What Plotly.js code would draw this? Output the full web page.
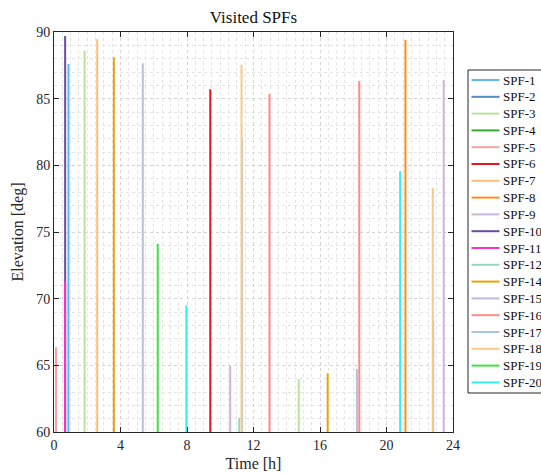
<!DOCTYPE html>
<html>
<head>
<meta charset="utf-8">
<script src="https://cdn.plot.ly/plotly-3.0.1.min.js"></script>
<style>html,body{margin:0;padding:0;background:#fff;}#chart{width:541px;height:473px;}</style>
</head>
<body>
<div id="chart"></div>
<script>
// Series (legend order) and their colours
const seriesNames = ['SPF-1','SPF-2','SPF-3','SPF-4','SPF-5','SPF-6','SPF-7','SPF-8','SPF-9','SPF-10',
                     'SPF-11','SPF-12','SPF-14','SPF-15','SPF-16','SPF-17','SPF-18','SPF-19','SPF-20'];
const seriesColors = ['#5fb8ec','#4f8cc6','#b9e29a','#3aa835','#f7a1a1','#e4161d','#fdbf78','#ff8c1a','#cdb6da','#6e4b9e',
                      '#ff33bb','#98d6c6','#eba300','#bcbcdc','#ff8a86','#a8c6df','#fcc88a','#3ee23e','#33f0f0'];

// Passes: which SPF, time of pass [h], peak elevation [deg]
const passSeries = ['SPF-5','SPF-10','SPF-11','SPF-1','SPF-3','SPF-7','SPF-14','SPF-15','SPF-19','SPF-20',
                    'SPF-6','SPF-9','SPF-12','SPF-17','SPF-18','SPF-16','SPF-3','SPF-14','SPF-15','SPF-16',
                    'SPF-20','SPF-8','SPF-17','SPF-18','SPF-9'];
const passTime   = [0.12, 0.67, 0.67, 0.87, 1.84, 2.60, 3.60, 5.34, 6.24, 7.96,
                    9.40, 10.60, 11.14, 11.31, 11.28, 12.96, 14.72, 16.46, 18.22, 18.36,
                    20.82, 21.14, 22.81, 22.78, 23.44];
const passPeak   = [66.35, 89.7, 71.3, 87.6, 88.6, 89.45, 88.1, 87.65, 74.1, 69.5,
                    85.7, 64.95, 61.07, 82.0, 87.55, 85.35, 63.97, 64.4, 64.72, 86.33,
                    79.58, 89.4, 68.4, 78.3, 86.4];
const maskElevation = 60;

const xTicks = [0, 4, 8, 12, 16, 20, 24];
const yTicks = [60, 65, 70, 75, 80, 85, 90];

const traces = seriesNames.map((name, i) => {
  const x = [], y = [];
  passSeries.forEach((s, k) => {
    if (s === name) {
      x.push(passTime[k], passTime[k], null);
      y.push(maskElevation, passPeak[k], null);
    }
  });
  return {
    type: 'scatter', mode: 'lines', name: name, x: x, y: y, showlegend: false,
    line: {color: seriesColors[i], width: 2}, connectgaps: false, hoverinfo: 'skip'
  };
});

// Plot area geometry (pixels) used to place the legend box outside the axes
const W = 541, H = 473;
const M = {l: 54, r: 88, t: 32, b: 41};
const plotW = W - M.l - M.r, plotH = H - M.t - M.b;
const px2x = p => (p - M.l) / plotW;
const py2y = p => (H - M.b - p) / plotH;

const fontFam = '"Liberation Serif", "Times New Roman", serif';

// Legend drawn as a boxed list beside the axes (row spacing of the reference)
const legendLeft = 468, legendTop = 70, legendBottom = 393;
const rowTop = 80, rowStep = 16.8;
const shapes = [{
  type: 'rect', xref: 'paper', yref: 'paper', layer: 'above',
  x0: px2x(legendLeft), x1: px2x(W + 20), y0: py2y(legendBottom), y1: py2y(legendTop),
  line: {color: '#262626', width: 1}, fillcolor: '#ffffff'
}];
const annotations = [];
seriesNames.forEach((name, i) => {
  const py = rowTop + rowStep * i;
  shapes.push({
    type: 'line', xref: 'paper', yref: 'paper', layer: 'above',
    x0: px2x(471.5), x1: px2x(499.5), y0: py2y(py), y1: py2y(py),
    line: {color: seriesColors[i], width: 2}
  });
  annotations.push({
    text: name, xref: 'paper', yref: 'paper', x: px2x(501), y: py2y(py),
    xanchor: 'left', yanchor: 'middle', showarrow: false,
    font: {family: fontFam, size: 13, color: '#111'}
  });
});

const axisCommon = {
  ticks: 'inside', ticklen: 5, tickwidth: 1, tickcolor: '#262626',
  mirror: 'ticks', showline: true, linecolor: '#262626', linewidth: 1,
  showgrid: true, gridcolor: '#d4d4d4', griddash: 'dot', gridwidth: 1,
  zeroline: false, automargin: false,
  tickfont: {family: fontFam, size: 14, color: '#262626'}
};

const layout = {
  width: W, height: H,
  margin: M,
  paper_bgcolor: '#ffffff', plot_bgcolor: '#ffffff',
  font: {family: fontFam, size: 14, color: '#262626'},
  title: {text: 'Visited SPFs', x: 253.5/541, xanchor: 'center', xref: 'container',
          y: 1 - 17/473, yanchor: 'middle', yref: 'container',
          font: {family: fontFam, size: 17, color: '#111'}},
  xaxis: Object.assign({}, axisCommon, {
    range: [0, 24], tickvals: xTicks, ticktext: xTicks.map(String),
    minor: {dtick: 0.5, showgrid: true, gridcolor: '#e4e4e4', griddash: 'dot', gridwidth: 1},
    title: {text: 'Time [h]', font: {family: fontFam, size: 16, color: '#262626'}, standoff: 6}
  }),
  yaxis: Object.assign({}, axisCommon, {
    range: [60, 90], tickvals: yTicks, ticktext: yTicks.map(String),
    minor: {dtick: 1, showgrid: true, gridcolor: '#e4e4e4', griddash: 'dot', gridwidth: 1},
    title: {text: 'Elevation [deg]', font: {family: fontFam, size: 16, color: '#262626'}, standoff: 8}
  }),
  showlegend: false,
  shapes: shapes,
  annotations: annotations
};

Plotly.newPlot('chart', traces, layout, {staticPlot: true, displayModeBar: false});
</script>
</body>
</html>
